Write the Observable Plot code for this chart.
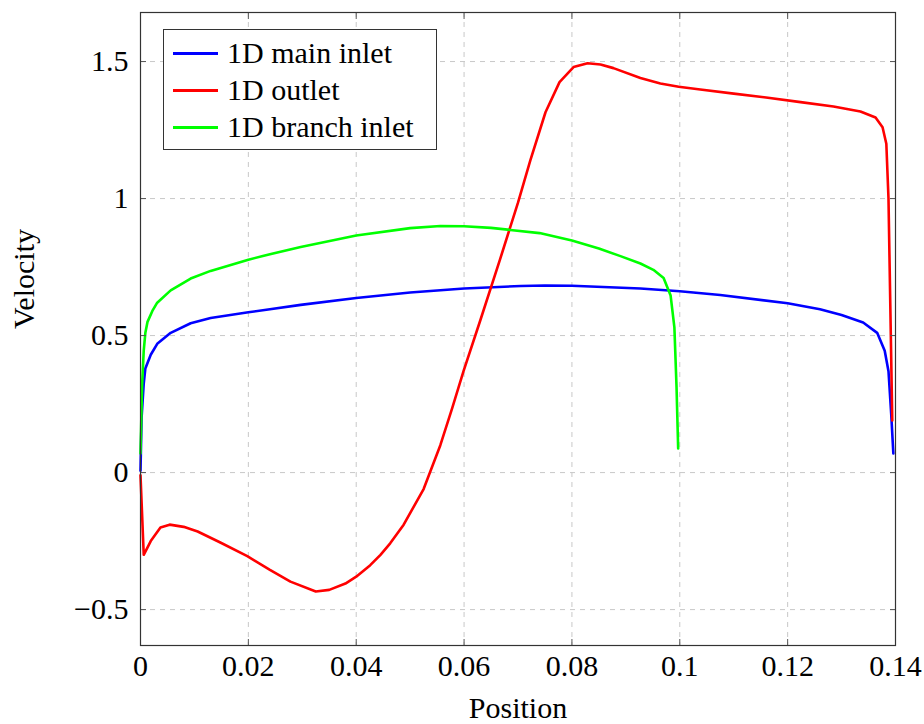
<!DOCTYPE html>
<html>
<head>
<meta charset="utf-8">
<script src="https://cdn.jsdelivr.net/npm/d3@7"></script>
<script src="https://cdn.jsdelivr.net/npm/@observablehq/plot@0.6"></script>
<style>
  html, body { margin: 0; padding: 0; background: #fff; }
  #wrap { position: relative; width: 924px; height: 724px; }
  #legend {
    position: absolute; left: 163px; top: 29px; width: 272px; height: 119px;
    border: 1px solid #333; background: #fff; box-sizing: content-box;
    font-family: "Liberation Serif", "DejaVu Serif", serif; font-size: 30px; color: #000;
  }
  .row { position: absolute; left: 0; height: 30px; display: flex; align-items: center; white-space: nowrap; }
  .swatch { width: 45px; height: 3px; margin-left: 9px; margin-right: 9px; }
</style>
</head>
<body>
<div id="wrap"></div>
<script>
// ---- data ----
const seriesNames = ["1D main inlet", "1D outlet", "1D branch inlet"];
const seriesColors = ["#0000ff", "#ff0000", "#00ff00"];

const mainX = [0, 0.0002, 0.0006, 0.0009, 0.0019, 0.0031, 0.0056, 0.0093, 0.013, 0.02, 0.024, 0.0297, 0.04, 0.05, 0.06, 0.0705, 0.075, 0.08, 0.0927, 0.1, 0.1075, 0.12, 0.126, 0.13, 0.134, 0.1366, 0.138, 0.1387, 0.1392, 0.1396];
const mainY = [0.007, 0.2, 0.325, 0.38, 0.43, 0.47, 0.51, 0.545, 0.564, 0.585, 0.596, 0.612, 0.637, 0.657, 0.672, 0.681, 0.683, 0.682, 0.672, 0.662, 0.648, 0.618, 0.596, 0.575, 0.548, 0.51, 0.445, 0.37, 0.215, 0.07];

const outletX = [0, 0.0006, 0.0019, 0.0037, 0.0054, 0.008, 0.0106, 0.0148, 0.0198, 0.024, 0.0278, 0.0325, 0.035, 0.038, 0.040, 0.0426, 0.0445, 0.0463, 0.0488, 0.0525, 0.0556, 0.0578, 0.0599, 0.063, 0.0667, 0.07, 0.0723, 0.0751, 0.0777, 0.0803, 0.0829, 0.0853, 0.0877, 0.0927, 0.0964, 0.0998, 0.1038, 0.11, 0.116, 0.1224, 0.1285, 0.1335, 0.1363, 0.1376, 0.1383, 0.1387, 0.1394];
const outletY = [-0.01, -0.30, -0.25, -0.20, -0.19, -0.198, -0.215, -0.255, -0.305, -0.355, -0.398, -0.434, -0.428, -0.405, -0.38, -0.338, -0.30, -0.258, -0.19, -0.06, 0.10, 0.235, 0.37, 0.555, 0.78, 0.985, 1.14, 1.315, 1.425, 1.48, 1.494, 1.489, 1.476, 1.44, 1.42, 1.408, 1.398, 1.383, 1.369, 1.352, 1.336, 1.318, 1.296, 1.26, 1.20, 1.0, 0.19];

const branchX = [0, 0.0003, 0.0006, 0.0009, 0.0013, 0.0022, 0.0031, 0.0056, 0.0093, 0.013, 0.02, 0.024, 0.0297, 0.04, 0.05, 0.0556, 0.06, 0.065, 0.074, 0.08, 0.085, 0.089, 0.0927, 0.0951, 0.097, 0.0983, 0.099, 0.0994, 0.0997];
const branchY = [0.07, 0.32, 0.445, 0.51, 0.55, 0.59, 0.62, 0.665, 0.708, 0.736, 0.777, 0.797, 0.823, 0.865, 0.892, 0.90, 0.899, 0.893, 0.874, 0.847, 0.818, 0.79, 0.763, 0.74, 0.71, 0.646, 0.53, 0.31, 0.088];

const xTicks = [0, 0.02, 0.04, 0.06, 0.08, 0.1, 0.12, 0.14];
const yTicks = [-0.5, 0, 0.5, 1, 1.5];
const xDomain = [0, 0.14];
const yDomain = [-0.631, 1.679];

// ---- build table ----
const allX = [mainX, outletX, branchX];
const allY = [mainY, outletY, branchY];
const rows = [];
seriesNames.forEach((name, i) => {
  allX[i].forEach((x, j) => rows.push({series: name, x, y: allY[i][j]}));
});

const font = "'Liberation Serif', 'DejaVu Serif', serif";
const fmtY = d => (d < 0 ? "\u2212" : "") + String(Math.abs(d));
const fmtX = d => String(d);

const chart = Plot.plot({
  width: 924,
  height: 724,
  marginLeft: 140,
  marginRight: 29,
  marginTop: 12,
  marginBottom: 79,
  style: {fontFamily: font, fontSize: "30px", background: "#fff", color: "#000"},
  x: {domain: xDomain, ticks: xTicks},
  y: {domain: yDomain, ticks: yTicks},
  color: {domain: seriesNames, range: seriesColors},
  marks: [
    Plot.gridX(xTicks, {stroke: "#c8c8c8", strokeOpacity: 1, strokeDasharray: "5,5", strokeWidth: 1}),
    Plot.gridY(yTicks, {stroke: "#c8c8c8", strokeOpacity: 1, strokeDasharray: "5,5", strokeWidth: 1}),
    Plot.line(rows, {x: "x", y: "y", z: "series", stroke: "series", strokeWidth: 2.6, curve: "linear", strokeLinejoin: "round"}),
    Plot.axisX(xTicks, {anchor: "bottom", tickSize: -6, tickFormat: fmtX, tickPadding: 15, label: null, stroke: "#555", fontSize: 30}),
    Plot.axisX(xTicks, {anchor: "top", tickSize: -6, tickFormat: () => "", label: null, stroke: "#555"}),
    Plot.axisY(yTicks, {anchor: "left", tickSize: -6, tickFormat: fmtY, tickPadding: 18, label: null, stroke: "#555", fontSize: 30}),
    Plot.axisY(yTicks, {anchor: "right", tickSize: -6, tickFormat: () => "", label: null, stroke: "#555"}),
    Plot.frame({stroke: "#333", strokeWidth: 1.2}),
    Plot.text(["Position"], {frameAnchor: "bottom", dy: 63, fontSize: 30, lineAnchor: "middle"}),
    Plot.text(["Velocity"], {frameAnchor: "left", dx: -116, rotate: -90, fontSize: 30, lineAnchor: "middle"})
  ]
});

const wrap = document.getElementById("wrap");
wrap.appendChild(chart);

// legend inside the plot area
const legend = document.createElement("div");
legend.id = "legend";
const tops = [8, 45, 82];
seriesNames.forEach((name, i) => {
  const row = document.createElement("div");
  row.className = "row";
  row.style.top = tops[i] + "px";
  const sw = document.createElement("div");
  sw.className = "swatch";
  sw.style.background = seriesColors[i];
  const label = document.createElement("span");
  label.textContent = name;
  row.appendChild(sw);
  row.appendChild(label);
  legend.appendChild(row);
});
wrap.appendChild(legend);
</script>
</body>
</html>
